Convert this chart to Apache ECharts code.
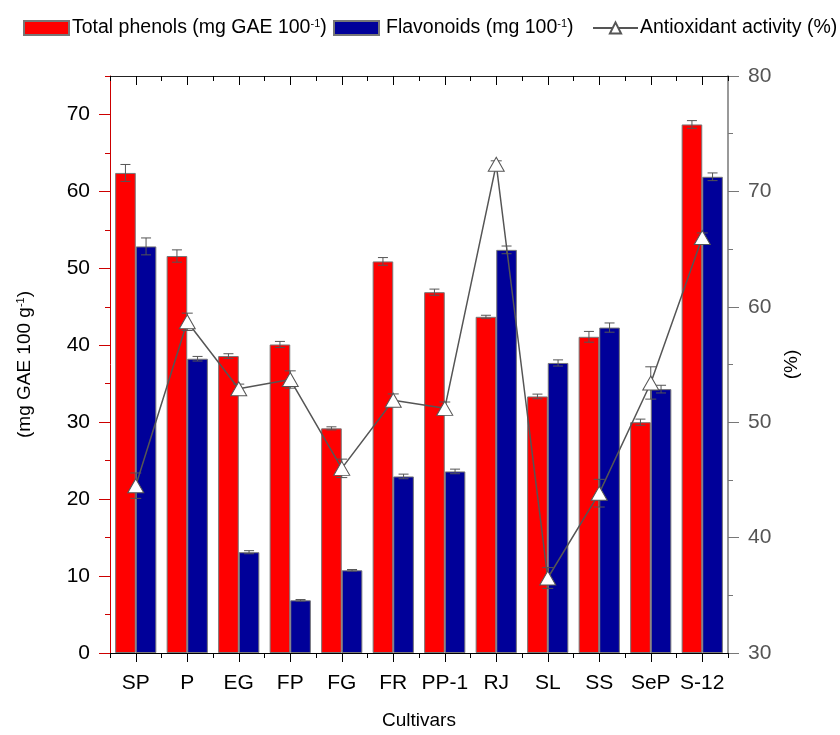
<!DOCTYPE html>
<html>
<head>
<meta charset="utf-8">
<script src="https://cdn.jsdelivr.net/npm/echarts@6/dist/echarts.min.js"></script>
<style>
  html, body { margin: 0; padding: 0; background: #fff; }
  #chart { width: 840px; height: 735px; }
</style>
</head>
<body>
<div id="chart"></div>
<script>
// ---- data ----
var categories = ['SP', 'P', 'EG', 'FP', 'FG', 'FR', 'PP-1', 'RJ', 'SL', 'SS', 'SeP', 'S-12'];
var phenols = [62.4, 51.6, 38.6, 40.1, 29.2, 50.9, 46.9, 43.7, 33.35, 41.1, 30.0, 68.7];
var phenolsErr = [1.1, 0.8, 0.3, 0.4, 0.2, 0.5, 0.4, 0.2, 0.3, 0.7, 0.4, 0.5];
var flavonoids = [52.85, 38.25, 13.1, 6.85, 10.75, 22.95, 23.6, 52.4, 37.7, 42.3, 34.3, 61.9];
var flavonoidsErr = [1.1, 0.3, 0.2, 0.1, 0.1, 0.3, 0.3, 0.5, 0.4, 0.6, 0.5, 0.5];
var antioxidant = [44.5, 58.7, 52.9, 53.7, 46.0, 51.9, 51.2, 72.35, 36.5, 43.85, 53.4, 66.0];
var antioxidantErr = [1.1, 0.75, 0.4, 0.75, 0.8, 0.55, 0.55, 0.3, 0.9, 1.2, 1.4, 0.4];
var leftTicks = [0, 10, 20, 30, 40, 50, 60, 70];
var leftMinorTicks = [5, 15, 25, 35, 45, 55, 65, 75];
var seriesNames = ['Total phenols', 'Flavonoids', 'Antioxidant activity (%)'];
var legendLabels = {
  'Total phenols': 'Total phenols (mg GAE 100{sup|-1})',
  'Flavonoids': 'Flavonoids (mg 100{sup|-1})',
  'Antioxidant activity (%)': 'Antioxidant activity (%)'
};

var FONT = 'Liberation Sans, Arial, sans-serif';
var chart = echarts.init(document.getElementById('chart'), null, { renderer: 'canvas' });

function errRender(offsetFrac, capHalf) {
  return function (params, api) {
    var i = api.value(0), v = api.value(1), e = api.value(2);
    var band = api.size([1, 0])[0];
    var c = api.coord([i, v]);
    var x = c[0] + offsetFrac * band;
    var yt = api.coord([i, v + e])[1];
    var yb = api.coord([i, v - e])[1];
    var st = { stroke: '#555', lineWidth: 1 };
    return {
      type: 'group',
      children: [
        { type: 'line', shape: { x1: x, y1: yt, x2: x, y2: yb }, style: st },
        { type: 'line', shape: { x1: x - capHalf, y1: yt, x2: x + capHalf, y2: yt }, style: st },
        { type: 'line', shape: { x1: x - capHalf, y1: yb, x2: x + capHalf, y2: yb }, style: st }
      ]
    };
  };
}
function errData(vals, errs) {
  return categories.map(function (c, i) { return [i, vals[i], errs[i]]; });
}

var supRich = {
  sup: { fontSize: 11, fontFamily: FONT, color: '#000', verticalAlign: 'top', lineHeight: 12 }
};

function makeLegend(idx, left, icon, padLeft) {
  var item = { name: seriesNames[idx] };
  if (icon) item.icon = icon;
  return {
    data: [item],
    left: left,
    top: 18,
    padding: 0,
    itemWidth: 45,
    itemHeight: 14,
    formatter: function (n) { return legendLabels[n]; },
    textStyle: { fontFamily: FONT, fontSize: 19.5, color: '#000', padding: [0, 0, 0, padLeft], rich: supRich }
  };
}

var option = {
  backgroundColor: '#fff',
  animation: false,
  legend: [
    makeLegend(0, 23, 'rect', -2),
    makeLegend(1, 333, 'rect', 2),
    makeLegend(2, 592, null, -3)
  ],
  grid: { left: 110, right: 112, top: 76, bottom: 82 },
  xAxis: [
    {
      type: 'category', position: 'bottom', data: categories,
      axisLine: { show: true, onZero: false, lineStyle: { color: '#000', width: 1 } },
      axisTick: { show: true, alignWithLabel: true, interval: 0, length: 9, lineStyle: { color: '#000', width: 1 } },
      axisLabel: { show: true, interval: 0, fontFamily: FONT, fontSize: 21, color: '#000', margin: 20 },
      splitLine: { show: false },
      name: 'Cultivars', nameLocation: 'middle', nameGap: 58,
      nameTextStyle: { fontFamily: FONT, fontSize: 19, color: '#000' }
    },
    {
      type: 'value', position: 'bottom', min: 0, max: categories.length, interval: 1,
      axisLine: { show: false, onZero: false },
      axisTick: { show: true, length: 5, lineStyle: { color: '#000', width: 1 } },
      axisLabel: { show: false },
      splitLine: { show: false }
    },
    {
      type: 'value', position: 'top', min: 0, max: categories.length, interval: 1,
      axisLine: { show: true, onZero: false, lineStyle: { color: '#222', width: 1 } },
      axisTick: { show: true, inside: true, length: 5, lineStyle: { color: '#000', width: 1 } },
      minorTick: { show: true, splitNumber: 2, length: 9, lineStyle: { color: '#000', width: 1 } },
      axisLabel: { show: false },
      splitLine: { show: false }
    }
  ],
  yAxis: [
    {
      type: 'value', position: 'left', min: 0, max: 75,
      axisLine: { show: true, lineStyle: { color: '#cc0000', width: 1 } },
      axisTick: { show: true, length: 11, customValues: leftTicks, lineStyle: { color: '#cc0000' } },
      axisLabel: { customValues: leftTicks, fontFamily: FONT, fontSize: 21, color: '#000', margin: 20 },
      splitLine: { show: false },
      name: '(mg GAE 100 g{sup|-1})', nameLocation: 'middle', nameGap: 76,
      nameTextStyle: { fontFamily: FONT, fontSize: 19, color: '#000', rich: supRich }
    },
    {
      type: 'value', position: 'left', min: 0, max: 75,
      axisLine: { show: false },
      axisTick: { show: true, length: 5, customValues: leftMinorTicks, lineStyle: { color: '#cc0000' } },
      axisLabel: { show: false },
      splitLine: { show: false }
    },
    {
      type: 'value', position: 'right', min: 30, max: 80, interval: 10,
      axisLine: { show: true, lineStyle: { color: '#777', width: 1.5 } },
      axisTick: { show: true, length: 11, lineStyle: { color: '#777' } },
      minorTick: { show: true, splitNumber: 2, length: 5, lineStyle: { color: '#777' } },
      axisLabel: { fontFamily: FONT, fontSize: 21, color: '#555', margin: 20 },
      splitLine: { show: false },
      name: '(%)', nameLocation: 'middle', nameGap: 50,
      nameTextStyle: { fontFamily: FONT, fontSize: 19, color: '#000' }
    }
  ],
  series: [
    {
      name: seriesNames[0], type: 'bar', data: phenols, xAxisIndex: 0, yAxisIndex: 0,
      barGap: '0%', barCategoryGap: '20%', z: 2,
      itemStyle: { color: '#ff0000', borderColor: '#777', borderWidth: 1 }
    },
    {
      name: seriesNames[1], type: 'bar', data: flavonoids, xAxisIndex: 0, yAxisIndex: 0,
      barGap: '0%', barCategoryGap: '20%', z: 2,
      itemStyle: { color: '#000099', borderColor: '#777', borderWidth: 1 }
    },
    {
      type: 'custom', xAxisIndex: 0, yAxisIndex: 0, z: 3,
      renderItem: errRender(-0.2, 5), data: errData(phenols, phenolsErr),
      encode: { x: 0, y: 1 }, silent: true
    },
    {
      type: 'custom', xAxisIndex: 0, yAxisIndex: 0, z: 3,
      renderItem: errRender(0.2, 5), data: errData(flavonoids, flavonoidsErr),
      encode: { x: 0, y: 1 }, silent: true
    },
    {
      type: 'custom', xAxisIndex: 0, yAxisIndex: 2, z: 4,
      renderItem: errRender(0, 5.5), data: errData(antioxidant, antioxidantErr),
      encode: { x: 0, y: 1 }, silent: true
    },
    {
      name: seriesNames[2], type: 'line', data: antioxidant, xAxisIndex: 0, yAxisIndex: 2, z: 5,
      symbol: 'triangle', symbolSize: [16, 14],
      lineStyle: { color: '#555', width: 1.5 },
      itemStyle: { color: '#fff', borderColor: '#555', borderWidth: 1 }
    }
  ]
};
chart.setOption(option);
</script>
</body>
</html>
